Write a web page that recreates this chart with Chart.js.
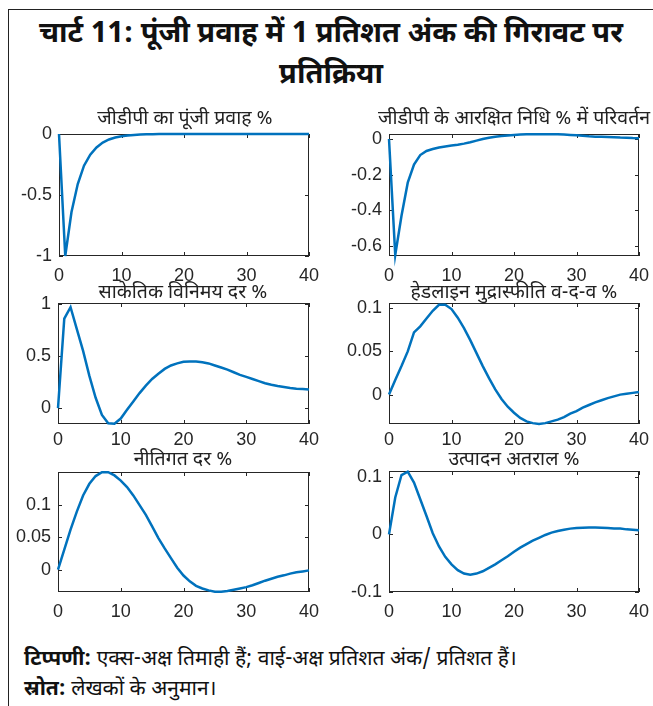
<!DOCTYPE html>
<html>
<head>
<meta charset="utf-8">
<script src="https://cdn.jsdelivr.net/npm/chart.js@4.4.1/dist/chart.umd.min.js"></script>
<style>
  body { margin: 0; width: 653px; height: 706px; overflow: hidden; background: #fff; position: relative;
         font-family: "Noto Sans Devanagari", "Noto Sans", "Liberation Sans", sans-serif; color: #111; }
  .frame { position: absolute; left: 8px; top: 9px; width: 700px; height: 720px;
           border-top: 1.5px solid #222; border-left: 1.5px solid #222; }
  .title { position: absolute; left: 9px; width: 644px; top: 15px; text-align: center;
           font-size: 29px; font-weight: bold; line-height: 41px; }
  .ptitle { position: absolute; width: 360px; text-align: center; white-space: nowrap;
            font-size: 19.5px; line-height: 24px; color: #222; }
  canvas { position: absolute; }
  .note { position: absolute; left: 24px; font-size: 21px; line-height: 26px; white-space: nowrap; }
</style>
</head>
<body>
<div class="frame"></div>
<div class="title">चार्ट 11: पूंजी प्रवाह में 1 प्रतिशत अंक की गिरावट पर<br>प्रतिक्रिया</div>

<canvas id="p1" width="320" height="170" style="left:4px;top:122px"></canvas>
<canvas id="p2" width="320" height="170" style="left:334px;top:122px"></canvas>
<canvas id="p3" width="320" height="170" style="left:3px;top:291px"></canvas>
<canvas id="p4" width="320" height="170" style="left:334px;top:291px"></canvas>
<canvas id="p5" width="320" height="170" style="left:3px;top:460px"></canvas>
<canvas id="p6" width="320" height="170" style="left:334px;top:459px"></canvas>

<div class="ptitle" style="left:5px;top:108px">जीडीपी का पूंजी प्रवाह %</div>
<div class="ptitle" style="left:334px;top:108px">जीडीपी के आरक्षित निधि % में परिवर्तन</div>
<div class="ptitle" style="left:3px;top:282px">साकेतिक विनिमय दर %</div>
<div class="ptitle" style="left:334px;top:282px">हेडलाइन मुद्रास्फीति व-द-व %</div>
<div class="ptitle" style="left:3px;top:449px">नीतिगत दर %</div>
<div class="ptitle" style="left:334px;top:449px">उत्पादन अतराल %</div>

<div class="note" style="top:647px"><b>टिप्पणी:</b> एक्स-अक्ष तिमाही हैं; वाई-अक्ष प्रतिशत अंक/ प्रतिशत हैं।</div>
<div class="note" style="top:677px"><b>स्रोत:</b> लेखकों के अनुमान।</div>

<script>
const quarters = [0, 1, 2, 3, 4, 5, 6, 7, 8, 9, 10, 11, 12, 13, 14, 15, 16, 17, 18, 19, 20,
    21, 22, 23, 24, 25, 26, 27, 28, 29, 30, 31, 32, 33, 34, 35, 36, 37, 38, 39, 40]
const xTicks = [0, 10, 20, 30, 40]

const gdpCapitalFlow = [0, -1, -0.64, -0.41, -0.26, -0.17, -0.11, -0.07, -0.045, -0.029, -0.018,
    -0.012, -0.008, -0.005, -0.003, -0.002, -0.001, -0.001, 0, 0, 0,
    0, 0, 0, 0, 0, 0, 0, 0, 0, 0, 0, 0, 0, 0, 0, 0, 0, 0, 0, 0]
const reserveChange = [0, -0.65, -0.43, -0.245, -0.143, -0.09, -0.067, -0.056, -0.048, -0.042, -0.037,
    -0.032, -0.026, -0.018, -0.009, 0, 0.007, 0.013, 0.017, 0.02, 0.023,
    0.025, 0.026, 0.027, 0.027, 0.027, 0.026, 0.026, 0.025, 0.023, 0.021,
    0.018, 0.015, 0.013, 0.012, 0.011, 0.01, 0.008, 0.007, 0.005, 0.004]
const exchangeRate = [0, 0.86, 0.97, 0.76, 0.55, 0.31, 0.1, -0.065, -0.145, -0.15, -0.1,
    -0.016, 0.065, 0.145, 0.216, 0.28, 0.33, 0.377, 0.41, 0.43, 0.445,
    0.448, 0.448, 0.44, 0.43, 0.41, 0.39, 0.37, 0.345, 0.32, 0.3,
    0.28, 0.26, 0.24, 0.225, 0.213, 0.203, 0.194, 0.187, 0.184, 0.18]
const headlineInflation = [0, 0.017, 0.033, 0.05, 0.072, 0.079, 0.088, 0.097, 0.104, 0.104, 0.099,
    0.089, 0.077, 0.063, 0.048, 0.033, 0.019, 0.006, -0.005, -0.014, -0.021,
    -0.027, -0.031, -0.033, -0.034, -0.033, -0.031, -0.029, -0.026, -0.022, -0.019,
    -0.015, -0.012, -0.009, -0.0065, -0.004, -0.002, 0, 0.001, 0.002, 0.003]
const policyRate = [0, 0.031, 0.062, 0.09, 0.115, 0.133, 0.145, 0.151, 0.151, 0.146, 0.138,
    0.128, 0.115, 0.1, 0.085, 0.067, 0.049, 0.033, 0.018, 0.003, -0.009,
    -0.018, -0.025, -0.029, -0.032, -0.034, -0.034, -0.033, -0.031, -0.029, -0.027,
    -0.024, -0.0205, -0.017, -0.014, -0.011, -0.0087, -0.006, -0.004, -0.0026, -0.001]
const outputGap = [0, 0.064, 0.103, 0.109, 0.09, 0.061, 0.032, 0.002, -0.021, -0.039, -0.052,
    -0.062, -0.068, -0.07, -0.068, -0.064, -0.058, -0.052, -0.045, -0.038, -0.03,
    -0.023, -0.017, -0.011, -0.006, -0.001, 0.003, 0.006, 0.008, 0.01, 0.011,
    0.0116, 0.012, 0.012, 0.0116, 0.011, 0.0104, 0.01, 0.0087, 0.008, 0.007]

const yTicks1 = [-1, -0.5, 0]
const yTicks2 = [-0.6, -0.4, -0.2, 0]
const yTicks3 = [0, 0.5, 1]
const yTicks4 = [0, 0.05, 0.1]
const yTicks5 = [0, 0.05, 0.1]
const yTicks6 = [-0.1, 0, 0.1]

const axisColor = '#262626'
const lineColor = '#0072BD'
const canvasH = 170
const padTop = 12

// box round the plot with small inward ticks, like the original
const boxPlugin = {
    id: 'box',
    beforeDatasetsDraw: (chart) => {
        const { ctx, chartArea } = chart
        const { left, top, right, bottom } = chartArea
        const xs = chart.scales.x
        const ys = chart.scales.y
        ctx.save()
        ctx.strokeStyle = axisColor
        ctx.lineWidth = 1
        ctx.strokeRect(left + 0.5, top + 0.5, right - left - 1, bottom - top - 1)
        ctx.beginPath()
        xs.ticks.forEach(t => {
            const px = Math.round(xs.getPixelForValue(t.value)) + 0.5
            ctx.moveTo(px, bottom); ctx.lineTo(px, bottom - 4)
            ctx.moveTo(px, top); ctx.lineTo(px, top + 4)
        })
        ys.ticks.forEach(t => {
            const py = Math.round(ys.getPixelForValue(t.value)) + 0.5
            ctx.moveTo(left, py); ctx.lineTo(left + 4, py)
            ctx.moveTo(right, py); ctx.lineTo(right - 4, py)
        })
        ctx.stroke()
        ctx.restore()
    }
}

const tickFont = { family: "'Liberation Sans', Arial, sans-serif", size: 18 }

const noPadding = (scale) => {
    scale.paddingLeft = 0
    scale.paddingRight = 0
    scale.paddingTop = 0
    scale.paddingBottom = 0
}

const makePanel = (id, values, yTicks, yMin, yMax, plotW, plotH, xPad) => {
    const config = {
        type: 'line',
        data: {
            labels: quarters,
            datasets: [{
                data: values.map((v, i) => ({ x: quarters[i], y: v })),
                borderColor: lineColor,
                borderWidth: 2.5,
                pointRadius: 0,
                tension: 0,
                fill: false,
                clip: false,
            }]
        },
        options: {
            responsive: false,
            animation: false,
            layout: { padding: { top: padTop, right: 320 - 55 - plotW, left: 0, bottom: 0 } },
            plugins: { legend: { display: false }, tooltip: { enabled: false } },
            scales: {
                x: {
                    type: 'linear',
                    min: 0,
                    max: 40,
                    afterBuildTicks: (scale) => { scale.ticks = xTicks.map(v => ({ value: v })) },
                    afterFit: (scale) => { scale.height = canvasH - padTop - plotH; noPadding(scale) },
                    ticks: { font: tickFont, color: axisColor, padding: xPad, maxRotation: 0,
                        callback: (value) => `${value}` },
                    grid: { display: false, drawTicks: false },
                    border: { display: false },
                },
                y: {
                    type: 'linear',
                    min: yMin,
                    max: yMax,
                    afterBuildTicks: (scale) => { scale.ticks = yTicks.map(v => ({ value: v })) },
                    afterFit: (scale) => { scale.width = 55; noPadding(scale) },
                    ticks: { font: tickFont, color: axisColor, padding: 7,
                        callback: (value) => `${value}` },
                    grid: { display: false, drawTicks: false },
                    border: { display: false },
                },
            }
        },
        plugins: [boxPlugin]
    }
    return new Chart(document.getElementById(id), config)
}

makePanel('p1', gdpCapitalFlow, yTicks1, -1, 0, 250, 122, 9)
makePanel('p2', reserveChange, yTicks2, -0.656, 0.028, 250, 122, 9)
makePanel('p3', exchangeRate, yTicks3, -0.152, 1.01, 251, 121, 5)
makePanel('p4', headlineInflation, yTicks4, -0.034, 0.106, 250, 121, 5)
makePanel('p5', policyRate, yTicks5, -0.0345, 0.1513, 251, 120, 9)
makePanel('p6', outputGap, yTicks6, -0.1, 0.11, 250, 121, 9)
</script>
</body>
</html>
